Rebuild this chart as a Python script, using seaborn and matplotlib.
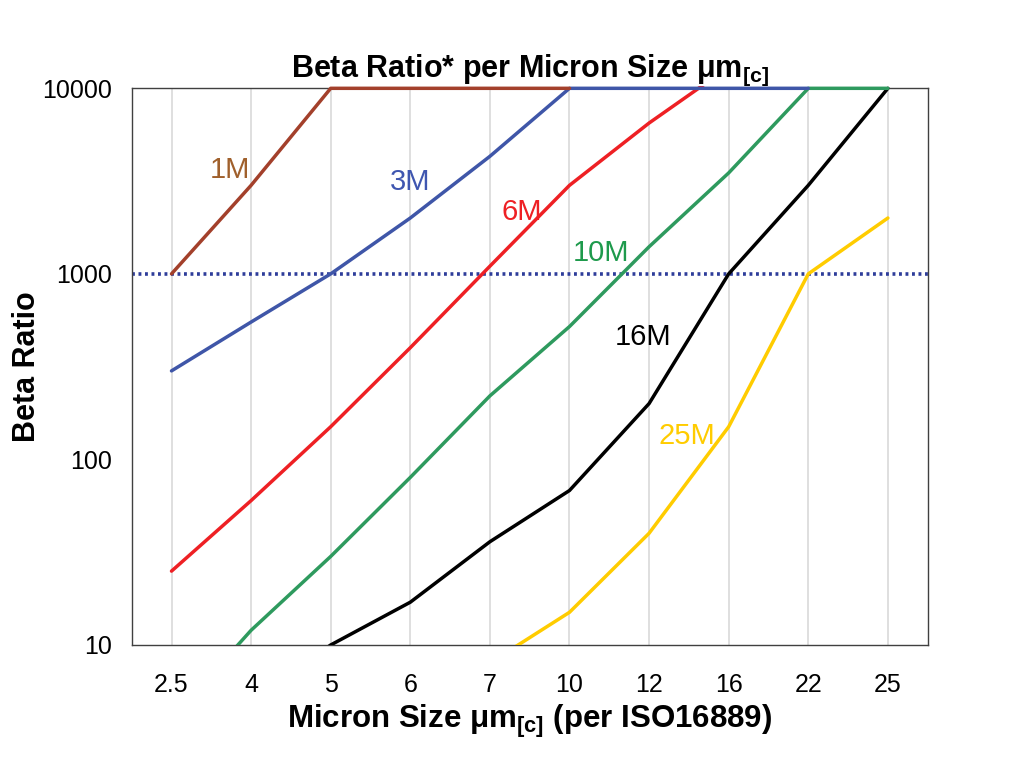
import numpy as np
import pandas as pd
import matplotlib
matplotlib.use("Agg")
import matplotlib.pyplot as plt
from matplotlib.patches import Rectangle
import seaborn as sns

# micron sizes (categorical axis)
sizes = ["2.5", "4", "5", "6", "7", "10", "12", "16", "22", "25"]

# beta ratio per filter grade (None = not drawn)
beta_1m = [1000, 3000, 10000, 10000, 10000, 10000, None, None, None, None]
beta_3m = [300, 550, 1000, 2000, 4300, 10000, 10000, 10000, 10000, None]
beta_6m = [25, 60, 150, 400, 1100, 3000, 6500, 13000, None, None]
beta_10m = [4, 12, 30, 80, 220, 520, 1400, 3500, 10000, 10000]
beta_16m = [2, 5, 10, 17, 36, 68, 200, 1000, 3000, 10000]
beta_25m = [None, None, None, None, 8, 15, 40, 150, 1000, 2000]

grades = ["1M", "3M", "6M", "10M", "16M", "25M"]
series = [beta_1m, beta_3m, beta_6m, beta_10m, beta_16m, beta_25m]

line_colors = {"1M": "#A3402B", "3M": "#3F56A8", "6M": "#EE2024",
               "10M": "#2E9A5E", "16M": "#000000", "25M": "#FFCC00"}
label_colors = {"1M": "#A0602C", "3M": "#3F56B0", "6M": "#EE2024",
                "10M": "#1E9A4C", "16M": "#000000", "25M": "#FFCC00"}
# where the grade labels sit (category index, beta value)
label_pos = {"1M": (0.74, 3620), "3M": (3.0, 3130), "6M": (4.40, 2150),
             "10M": (5.40, 1295), "16M": (5.93, 456), "25M": (6.47, 134)}

rows = []
for g, vals in zip(grades, series):
    for s, v in zip(sizes, vals):
        if v is not None:
            rows.append({"size": s, "beta": v, "grade": g})
df = pd.DataFrame(rows)
df["size"] = pd.Categorical(df["size"], categories=sizes, ordered=True)

sns.set_style("white")
plt.rcParams["font.family"] = ["Liberation Sans", "DejaVu Sans"]
plt.rcParams["text.color"] = "black"
plt.rcParams["axes.labelcolor"] = "black"
plt.rcParams["xtick.color"] = "black"
plt.rcParams["ytick.color"] = "black"
plt.rcParams["mathtext.fontset"] = "custom"
plt.rcParams["mathtext.rm"] = "Liberation Sans"
plt.rcParams["mathtext.bf"] = "Liberation Sans:bold"
plt.rcParams["mathtext.it"] = "Liberation Sans:italic"

fig = plt.figure(figsize=(10.1, 7.64), dpi=100)
ax = fig.add_axes([0.1304, 0.1558, 0.7881, 0.7286])

sns.lineplot(data=df, x="size", y="beta", hue="grade",
             hue_order=grades[::-1], palette=line_colors,
             linewidth=2.5, legend=False, ax=ax, sort=False)

# let the lines capped at 10000 show fully along the top edge
clip = Rectangle((0, 0), 1, 1.004, transform=ax.transAxes, facecolor="none")
for ln in ax.lines:
    ln.set_clip_path(clip)
    ln.set_zorder(3)

ax.set_yscale("log")
ax.set_ylim(10, 10000)
ax.set_xlim(-0.5, len(sizes) - 0.5)
ax.set_yticks([10, 100, 1000, 10000])
ax.set_yticklabels(["10", "100", "1000", "10000"])
ax.yaxis.set_minor_locator(matplotlib.ticker.NullLocator())
ax.tick_params(axis="both", length=0, labelsize=18)
ax.tick_params(axis="y", pad=14)
ax.tick_params(axis="x", pad=20)

ax.grid(False)
for i in range(len(sizes)):
    ax.axvline(i, color="#D9D9D9", lw=1.2, zorder=0)
ax.axhline(1000, color="#2E3D9A", lw=2.6, ls=(0, (0.8, 1.0)), zorder=1)

for sp in ax.spines.values():
    sp.set_color("#404040")
    sp.set_linewidth(1.0)
    sp.set_visible(True)

for g in grades:
    px, py = label_pos[g]
    ax.text(px, py, g, color=label_colors[g], fontsize=21,
            ha="center", va="center")

ax.set_title(r"Beta Ratio* per Micron Size μm$_\mathbf{[c]}$",
             fontsize=22, fontweight="bold", pad=8)
ax.set_xlabel(r"Micron Size μm$_\mathbf{[c]}$ (per ISO16889)",
              fontsize=22.5, fontweight="bold", labelpad=4)
ax.set_ylabel("Beta Ratio", fontsize=22, fontweight="bold", labelpad=0)

fig.savefig("out.png", dpi=100)
